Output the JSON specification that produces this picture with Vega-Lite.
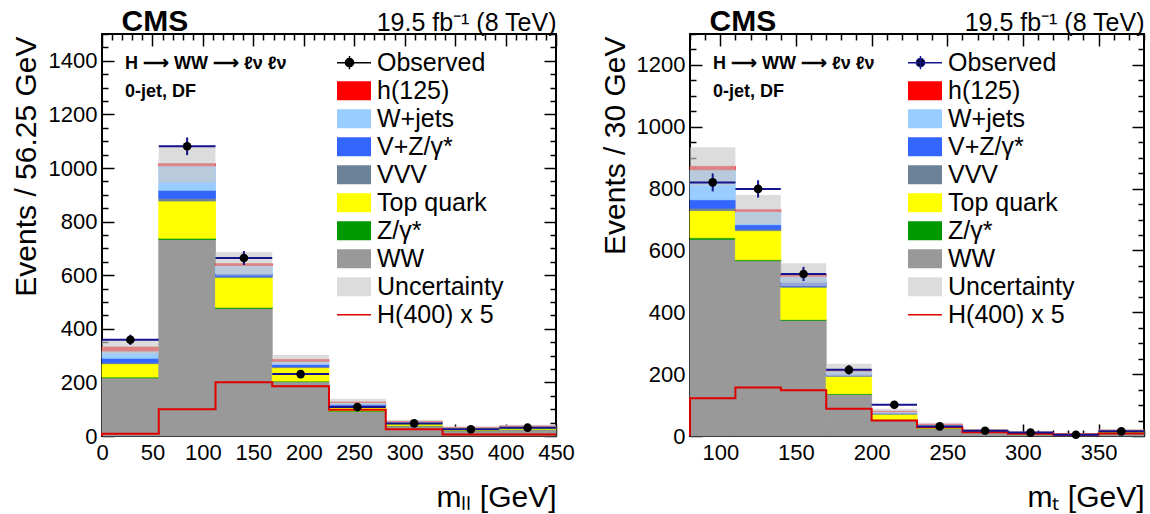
{
  "$schema": "https://vega.github.io/schema/vega-lite/v6.json",
  "description": "CMS H to WW 0-jet DF: m_ll and m_T distributions, stacked backgrounds with observed data.",
  "padding": {"left": 9, "top": 5, "right": 3, "bottom": 2},
  "bounds": "flush",
  "spacing": 134,
  "datasets": {
    "procs": [
      {"process": "WW", "rank": 1},
      {"process": "Z/γ*", "rank": 2},
      {"process": "Top quark", "rank": 3},
      {"process": "VVV", "rank": 4},
      {"process": "V+Z/γ*", "rank": 5},
      {"process": "W+jets", "rank": 6},
      {"process": "h(125)", "rank": 7}
    ],
    "mllStack": [
      {"lo": 0, "hi": 56.25, "WW": 217, "Z/γ*": 3, "Top quark": 50, "VVV": 3, "V+Z/γ*": 17, "W+jets": 27, "h(125)": 15},
      {"lo": 56.25, "hi": 112.5, "WW": 733, "Z/γ*": 5, "Top quark": 139, "VVV": 10, "V+Z/γ*": 30, "W+jets": 91, "h(125)": 8},
      {"lo": 112.5, "hi": 168.75, "WW": 476, "Z/γ*": 4, "Top quark": 111, "VVV": 5, "V+Z/γ*": 10, "W+jets": 30, "h(125)": 7},
      {"lo": 168.75, "hi": 225, "WW": 203, "Z/γ*": 2, "Top quark": 50, "VVV": 4, "V+Z/γ*": 8, "W+jets": 12, "h(125)": 6},
      {"lo": 225, "hi": 281.25, "WW": 92, "Z/γ*": 2, "Top quark": 18, "VVV": 2, "V+Z/γ*": 5, "W+jets": 6, "h(125)": 2},
      {"lo": 281.25, "hi": 337.5, "WW": 38, "Z/γ*": 1, "Top quark": 7, "VVV": 1, "V+Z/γ*": 2, "W+jets": 4, "h(125)": 1},
      {"lo": 337.5, "hi": 393.75, "WW": 20, "Z/γ*": 1, "Top quark": 4, "VVV": 1, "V+Z/γ*": 1, "W+jets": 3, "h(125)": 0.5},
      {"lo": 393.75, "hi": 450, "WW": 24, "Z/γ*": 1, "Top quark": 5, "VVV": 1, "V+Z/γ*": 2, "W+jets": 3, "h(125)": 0.5}
    ],
    "mllUnc": [
      {"lo": 0, "hi": 56.25, "down": 305, "up": 359},
      {"lo": 56.25, "hi": 112.5, "down": 946, "up": 1084},
      {"lo": 112.5, "hi": 168.75, "down": 599, "up": 687},
      {"lo": 168.75, "hi": 225, "down": 268, "up": 302},
      {"lo": 225, "hi": 281.25, "down": 115, "up": 139},
      {"lo": 281.25, "hi": 337.5, "down": 47, "up": 61},
      {"lo": 337.5, "hi": 393.75, "down": 25, "up": 36},
      {"lo": 393.75, "hi": 450, "down": 31, "up": 42}
    ],
    "mllObs": [
      {"lo": 0, "hi": 56.25, "mid": 28.125, "n": 359, "down": 340, "up": 378},
      {"lo": 56.25, "hi": 112.5, "mid": 84.375, "n": 1081, "down": 1048, "up": 1114},
      {"lo": 112.5, "hi": 168.75, "mid": 140.625, "n": 664, "down": 638, "up": 690},
      {"lo": 168.75, "hi": 225, "mid": 196.875, "n": 231, "down": 216, "up": 246},
      {"lo": 225, "hi": 281.25, "mid": 253.125, "n": 108, "down": 98, "up": 118},
      {"lo": 281.25, "hi": 337.5, "mid": 309.375, "n": 47, "down": 40, "up": 54},
      {"lo": 337.5, "hi": 393.75, "mid": 365.625, "n": 25, "down": 20, "up": 30},
      {"lo": 393.75, "hi": 450, "mid": 421.875, "n": 31, "down": 25, "up": 37}
    ],
    "mllH400": [
      {"m": 0, "n": 0},
      {"m": 0, "n": 8},
      {"m": 56.25, "n": 100},
      {"m": 112.5, "n": 201},
      {"m": 168.75, "n": 186},
      {"m": 225, "n": 98},
      {"m": 281.25, "n": 25},
      {"m": 337.5, "n": 6},
      {"m": 393.75, "n": 6},
      {"m": 450, "n": 6}
    ],
    "mtStack": [
      {"lo": 80, "hi": 110, "WW": 636, "Z/γ*": 5, "Top quark": 88, "VVV": 8, "V+Z/γ*": 27, "W+jets": 97, "h(125)": 11},
      {"lo": 110, "hi": 140, "WW": 567, "Z/γ*": 3, "Top quark": 94, "VVV": 5, "V+Z/γ*": 14, "W+jets": 43, "h(125)": 6},
      {"lo": 140, "hi": 170, "WW": 374, "Z/γ*": 3, "Top quark": 104, "VVV": 4, "V+Z/γ*": 12, "W+jets": 20, "h(125)": 5},
      {"lo": 170, "hi": 200, "WW": 135, "Z/γ*": 2, "Top quark": 56, "VVV": 2, "V+Z/γ*": 5, "W+jets": 10, "h(125)": 3},
      {"lo": 200, "hi": 230, "WW": 52, "Z/γ*": 1, "Top quark": 18, "VVV": 1, "V+Z/γ*": 3, "W+jets": 4, "h(125)": 1},
      {"lo": 230, "hi": 260, "WW": 24, "Z/γ*": 1, "Top quark": 7, "VVV": 1, "V+Z/γ*": 2, "W+jets": 2, "h(125)": 1},
      {"lo": 260, "hi": 290, "WW": 12, "Z/γ*": 0.5, "Top quark": 3, "VVV": 0.5, "V+Z/γ*": 1, "W+jets": 1.5, "h(125)": 0.5},
      {"lo": 290, "hi": 320, "WW": 7, "Z/γ*": 0.3, "Top quark": 2, "VVV": 0.4, "V+Z/γ*": 0.8, "W+jets": 1, "h(125)": 0.3},
      {"lo": 320, "hi": 350, "WW": 5, "Z/γ*": 0.2, "Top quark": 1.3, "VVV": 0.3, "V+Z/γ*": 0.5, "W+jets": 0.5, "h(125)": 0.2},
      {"lo": 350, "hi": 380, "WW": 12, "Z/γ*": 0.5, "Top quark": 2.5, "VVV": 0.5, "V+Z/γ*": 1, "W+jets": 1.5, "h(125)": 0.5}
    ],
    "mtUnc": [
      {"lo": 80, "hi": 110, "down": 810, "up": 934},
      {"lo": 110, "hi": 140, "down": 685, "up": 779},
      {"lo": 140, "hi": 170, "down": 485, "up": 559},
      {"lo": 170, "hi": 200, "down": 193, "up": 234},
      {"lo": 200, "hi": 230, "down": 72, "up": 88},
      {"lo": 230, "hi": 260, "down": 33, "up": 43},
      {"lo": 260, "hi": 290, "down": 16, "up": 22},
      {"lo": 290, "hi": 320, "down": 9, "up": 14.5},
      {"lo": 320, "hi": 350, "down": 6, "up": 10},
      {"lo": 350, "hi": 380, "down": 15, "up": 22}
    ],
    "mtObs": [
      {"lo": 80, "hi": 110, "mid": 95, "n": 820, "down": 791, "up": 849},
      {"lo": 110, "hi": 140, "mid": 125, "n": 799, "down": 771, "up": 827},
      {"lo": 140, "hi": 170, "mid": 155, "n": 524, "down": 501, "up": 547},
      {"lo": 170, "hi": 200, "mid": 185, "n": 214, "down": 199, "up": 229},
      {"lo": 200, "hi": 230, "mid": 215, "n": 101, "down": 91, "up": 111},
      {"lo": 230, "hi": 260, "mid": 245, "n": 31, "down": 25.5, "up": 36.5},
      {"lo": 260, "hi": 290, "mid": 275, "n": 17, "down": 13, "up": 21},
      {"lo": 290, "hi": 320, "mid": 305, "n": 11, "down": 7.7, "up": 14.3},
      {"lo": 320, "hi": 350, "mid": 335, "n": 4, "down": 2, "up": 6},
      {"lo": 350, "hi": 380, "mid": 365, "n": 15, "down": 11, "up": 19}
    ],
    "mtH400": [
      {"m": 80, "n": 0},
      {"m": 80, "n": 122},
      {"m": 110, "n": 157},
      {"m": 140, "n": 148},
      {"m": 170, "n": 88},
      {"m": 200, "n": 50},
      {"m": 230, "n": 28},
      {"m": 260, "n": 12},
      {"m": 290, "n": 7},
      {"m": 320, "n": 4},
      {"m": 350, "n": 8},
      {"m": 380, "n": 8}
    ]
  },
  "hconcat": [
    {
      "width": 454,
      "height": 402,
      "title": {
        "text": "H ⟶ WW ⟶  ℓν ℓν",
        "subtitle": "0-jet, DF",
        "anchor": "start",
        "frame": "group",
        "offset": -31,
        "dx": 23,
        "dy": 64,
        "fontSize": 18,
        "fontWeight": "bold",
        "subtitleFontSize": 18,
        "subtitleFontWeight": "bold",
        "subtitlePadding": 10,
        "color": "black",
        "subtitleColor": "black"
      },
      "layer": [
        {
          "data": {"name": "mllStack"},
          "transform": [
            {"fold": ["WW", "Z/γ*", "Top quark", "VVV", "V+Z/γ*", "W+jets", "h(125)"], "as": ["process", "events"]},
            {"lookup": "process", "from": {"data": {"name": "procs"}, "key": "process", "fields": ["rank"]}},
            {"stack": "events", "groupby": ["lo"], "sort": [{"field": "rank", "order": "ascending"}], "as": ["bottom", "top"]}
          ],
          "mark": {"type": "rect", "strokeWidth": 0.8},
          "encoding": {
            "x": {
              "field": "lo", "type": "quantitative",
              "scale": {"domain": [0, 450], "nice": false, "zero": false},
              "axis": {
                "orient": "bottom",
                "values": [0,10,20,30,40,50,60,70,80,90,100,110,120,130,140,150,160,170,180,190,200,210,220,230,240,250,260,270,280,290,300,310,320,330,340,350,360,370,380,390,400,410,420,430,440,450],
                "labelExpr": "datum.value % 50 === 0 ? datum.label : ''",
                "tickSize": {"condition": {"test": "datum.value % 50 === 0", "value": -12}, "value": -6},
                "labelPadding": 18,
                "title": "mₗₗ  [GeV]",
                "titleX": 454, "titleY": 70, "titleAlign": "right", "titleBaseline": "alphabetic"
              }
            },
            "x2": {"field": "hi"},
            "y": {
              "field": "bottom", "type": "quantitative",
              "scale": {"domain": [0, 1500], "nice": false},
              "axis": {
                "orient": "left",
                "values": [0,50,100,150,200,250,300,350,400,450,500,550,600,650,700,750,800,850,900,950,1000,1050,1100,1150,1200,1250,1300,1350,1400,1450,1500],
                "format": "d",
                "labelExpr": "datum.value % 200 === 0 ? datum.label : ''",
                "tickSize": {"condition": {"test": "datum.value % 200 === 0", "value": -12}, "value": -6},
                "labelPadding": 17,
                "title": "Events / 56.25 GeV",
                "titleAngle": -90, "titleX": -67, "titleY": 2, "titleAlign": "right", "titleBaseline": "alphabetic"
              }
            },
            "y2": {"field": "top"},
            "color": {
              "field": "process", "type": "nominal",
              "scale": {
                "domain": ["Observed", "h(125)", "W+jets", "V+Z/γ*", "VVV", "Top quark", "Z/γ*", "WW", "Uncertainty", "H(400) x 5"],
                "range": ["#000000", "#ff0000", "#99ccff", "#3366ff", "#6b8299", "#ffff00", "#009a00", "#999999", "#dcdcdc", "#dd0000"]
              },
              "legend": {
                "title": null, "orient": "none", "legendX": 235, "legendY": 15,
                "encode": {
                  "symbols": {
                    "update": {
                      "shape": {"signal": "datum.value === 'Observed' ? 'M-1,0H1M0,-0.31V0.31M-0.19,0A0.19,0.19 0 1 0 0.19,0A0.19,0.19 0 1 0 -0.19,0' : datum.value === 'H(400) x 5' ? 'M-1,0H1' : 'M-1,-0.44H1V0.44H-1Z'"},
                      "stroke": {"signal": "datum.value === 'H(400) x 5' ? '#dd0000' : 'black'"},
                      "strokeWidth": {"signal": "datum.value === 'Observed' || datum.value === 'H(400) x 5' ? 1.5 : 0"}
                    }
                  }
                }
              }
            },
            "stroke": {
              "field": "process", "type": "nominal",
              "scale": {
                "domain": ["Observed", "h(125)", "W+jets", "V+Z/γ*", "VVV", "Top quark", "Z/γ*", "WW", "Uncertainty", "H(400) x 5"],
                "range": ["#000000", "#ff0000", "#99ccff", "#3366ff", "#6b8299", "#ffff00", "#009a00", "#999999", "#dcdcdc", "#dd0000"]
              },
              "legend": null
            }
          }
        },
        {
          "data": {"name": "mllUnc"},
          "mark": {"type": "rect", "color": "#c9c9c9", "opacity": 0.65},
          "encoding": {
            "x": {
              "field": "lo", "type": "quantitative",
              "axis": {
                "orient": "top", "labels": false,
                "values": [0,10,20,30,40,50,60,70,80,90,100,110,120,130,140,150,160,170,180,190,200,210,220,230,240,250,260,270,280,290,300,310,320,330,340,350,360,370,380,390,400,410,420,430,440,450],
                "tickSize": {"condition": {"test": "datum.value % 50 === 0", "value": -12}, "value": -6},
                "title": "19.5 fb⁻¹ (8 TeV)", "titleFontSize": 25,
                "titleX": 454, "titleY": -4, "titleAlign": "right", "titleBaseline": "alphabetic"
              }
            },
            "x2": {"field": "hi"},
            "y": {
              "field": "down", "type": "quantitative",
              "axis": {
                "orient": "right", "labels": false,
                "values": [0,50,100,150,200,250,300,350,400,450,500,550,600,650,700,750,800,850,900,950,1000,1050,1100,1150,1200,1250,1300,1350,1400,1450,1500],
                "tickSize": {"condition": {"test": "datum.value % 200 === 0", "value": -12}, "value": -6},
                "title": "CMS", "titleFontSize": 30, "titleFontWeight": "bold",
                "titleAngle": 0, "titleX": -435, "titleY": -4, "titleAlign": "left", "titleBaseline": "alphabetic"
              }
            },
            "y2": {"field": "up"}
          }
        },
        {
          "data": {"name": "mllH400"},
          "mark": {"type": "line", "interpolate": "step-after", "color": "#dd0000", "strokeWidth": 2},
          "encoding": {
            "x": {"field": "m", "type": "quantitative", "axis": null},
            "y": {"field": "n", "type": "quantitative", "axis": null}
          }
        },
        {
          "data": {"name": "mllObs"},
          "mark": {"type": "rule", "color": "#14148c", "strokeWidth": 2},
          "encoding": {
            "x": {"field": "lo", "type": "quantitative", "axis": null},
            "x2": {"field": "hi"},
            "y": {"field": "n", "type": "quantitative", "axis": null}
          }
        },
        {
          "data": {"name": "mllObs"},
          "mark": {"type": "rule", "color": "#14148c", "strokeWidth": 2},
          "encoding": {
            "x": {"field": "mid", "type": "quantitative", "axis": null},
            "y": {"field": "down", "type": "quantitative", "axis": null},
            "y2": {"field": "up"}
          }
        },
        {
          "data": {"name": "mllObs"},
          "mark": {"type": "point", "filled": true, "color": "black", "opacity": 1, "size": 75},
          "encoding": {
            "x": {"field": "mid", "type": "quantitative", "axis": null},
            "y": {"field": "n", "type": "quantitative", "axis": null}
          }
        }
      ],
      "resolve": {"axis": {"x": "independent", "y": "independent"}}
    },
    {
      "width": 454,
      "height": 402,
      "title": {
        "text": "H ⟶ WW ⟶  ℓν ℓν",
        "subtitle": "0-jet, DF",
        "anchor": "start",
        "frame": "group",
        "offset": -31,
        "dx": 23,
        "dy": 64,
        "fontSize": 18,
        "fontWeight": "bold",
        "subtitleFontSize": 18,
        "subtitleFontWeight": "bold",
        "subtitlePadding": 10,
        "color": "black",
        "subtitleColor": "black"
      },
      "layer": [
        {
          "data": {"name": "mtStack"},
          "transform": [
            {"fold": ["WW", "Z/γ*", "Top quark", "VVV", "V+Z/γ*", "W+jets", "h(125)"], "as": ["process", "events"]},
            {"lookup": "process", "from": {"data": {"name": "procs"}, "key": "process", "fields": ["rank"]}},
            {"stack": "events", "groupby": ["lo"], "sort": [{"field": "rank", "order": "ascending"}], "as": ["bottom", "top"]}
          ],
          "mark": {"type": "rect", "strokeWidth": 0.8},
          "encoding": {
            "x": {
              "field": "lo", "type": "quantitative",
              "scale": {"domain": [80, 380], "nice": false, "zero": false},
              "axis": {
                "orient": "bottom",
                "values": [80,90,100,110,120,130,140,150,160,170,180,190,200,210,220,230,240,250,260,270,280,290,300,310,320,330,340,350,360,370,380],
                "labelExpr": "datum.value % 50 === 0 ? datum.label : ''",
                "tickSize": {"condition": {"test": "datum.value % 50 === 0", "value": -12}, "value": -6},
                "labelPadding": 18,
                "title": "mₜ [GeV]",
                "titleX": 454, "titleY": 70, "titleAlign": "right", "titleBaseline": "alphabetic"
              }
            },
            "x2": {"field": "hi"},
            "y": {
              "field": "bottom", "type": "quantitative",
              "scale": {"domain": [0, 1300], "nice": false},
              "axis": {
                "orient": "left",
                "values": [0,50,100,150,200,250,300,350,400,450,500,550,600,650,700,750,800,850,900,950,1000,1050,1100,1150,1200,1250,1300],
                "format": "d",
                "labelExpr": "datum.value % 200 === 0 ? datum.label : ''",
                "tickSize": {"condition": {"test": "datum.value % 200 === 0", "value": -12}, "value": -6},
                "labelPadding": 17,
                "title": "Events / 30 GeV",
                "titleAngle": -90, "titleX": -66, "titleY": 2, "titleAlign": "right", "titleBaseline": "alphabetic"
              }
            },
            "y2": {"field": "top"},
            "color": {
              "field": "process", "type": "nominal",
              "scale": {
                "domain": ["Observed", "h(125)", "W+jets", "V+Z/γ*", "VVV", "Top quark", "Z/γ*", "WW", "Uncertainty", "H(400) x 5"],
                "range": ["#000000", "#ff0000", "#99ccff", "#3366ff", "#6b8299", "#ffff00", "#009a00", "#999999", "#dcdcdc", "#dd0000"]
              },
              "legend": {
                "title": null, "orient": "none", "legendX": 218, "legendY": 15,
                "encode": {
                  "symbols": {
                    "update": {
                      "shape": {"signal": "datum.value === 'Observed' ? 'M-1,0H1M0,-0.31V0.31M-0.19,0A0.19,0.19 0 1 0 0.19,0A0.19,0.19 0 1 0 -0.19,0' : datum.value === 'H(400) x 5' ? 'M-1,0H1' : 'M-1,-0.44H1V0.44H-1Z'"},
                      "stroke": {"signal": "datum.value === 'H(400) x 5' ? '#dd0000' : datum.value === 'Observed' ? '#14148c' : 'black'"},
                      "strokeWidth": {"signal": "datum.value === 'Observed' || datum.value === 'H(400) x 5' ? 1.5 : 0"}
                    }
                  }
                }
              }
            },
            "stroke": {
              "field": "process", "type": "nominal",
              "scale": {
                "domain": ["Observed", "h(125)", "W+jets", "V+Z/γ*", "VVV", "Top quark", "Z/γ*", "WW", "Uncertainty", "H(400) x 5"],
                "range": ["#000000", "#ff0000", "#99ccff", "#3366ff", "#6b8299", "#ffff00", "#009a00", "#999999", "#dcdcdc", "#dd0000"]
              },
              "legend": null
            }
          }
        },
        {
          "data": {"name": "mtUnc"},
          "mark": {"type": "rect", "color": "#c9c9c9", "opacity": 0.65},
          "encoding": {
            "x": {
              "field": "lo", "type": "quantitative",
              "axis": {
                "orient": "top", "labels": false,
                "values": [80,90,100,110,120,130,140,150,160,170,180,190,200,210,220,230,240,250,260,270,280,290,300,310,320,330,340,350,360,370,380],
                "tickSize": {"condition": {"test": "datum.value % 50 === 0", "value": -12}, "value": -6},
                "title": "19.5 fb⁻¹ (8 TeV)", "titleFontSize": 25,
                "titleX": 454, "titleY": -4, "titleAlign": "right", "titleBaseline": "alphabetic"
              }
            },
            "x2": {"field": "hi"},
            "y": {
              "field": "down", "type": "quantitative",
              "axis": {
                "orient": "right", "labels": false,
                "values": [0,50,100,150,200,250,300,350,400,450,500,550,600,650,700,750,800,850,900,950,1000,1050,1100,1150,1200,1250,1300],
                "tickSize": {"condition": {"test": "datum.value % 200 === 0", "value": -12}, "value": -6},
                "title": "CMS", "titleFontSize": 30, "titleFontWeight": "bold",
                "titleAngle": 0, "titleX": -435, "titleY": -4, "titleAlign": "left", "titleBaseline": "alphabetic"
              }
            },
            "y2": {"field": "up"}
          }
        },
        {
          "data": {"name": "mtH400"},
          "mark": {"type": "line", "interpolate": "step-after", "color": "#dd0000", "strokeWidth": 2},
          "encoding": {
            "x": {"field": "m", "type": "quantitative", "axis": null},
            "y": {"field": "n", "type": "quantitative", "axis": null}
          }
        },
        {
          "data": {"name": "mtObs"},
          "mark": {"type": "rule", "color": "#14148c", "strokeWidth": 2},
          "encoding": {
            "x": {"field": "lo", "type": "quantitative", "axis": null},
            "x2": {"field": "hi"},
            "y": {"field": "n", "type": "quantitative", "axis": null}
          }
        },
        {
          "data": {"name": "mtObs"},
          "mark": {"type": "rule", "color": "#14148c", "strokeWidth": 2},
          "encoding": {
            "x": {"field": "mid", "type": "quantitative", "axis": null},
            "y": {"field": "down", "type": "quantitative", "axis": null},
            "y2": {"field": "up"}
          }
        },
        {
          "data": {"name": "mtObs"},
          "mark": {"type": "point", "filled": true, "color": "black", "opacity": 1, "size": 75},
          "encoding": {
            "x": {"field": "mid", "type": "quantitative", "axis": null},
            "y": {"field": "n", "type": "quantitative", "axis": null}
          }
        }
      ],
      "resolve": {"axis": {"x": "independent", "y": "independent"}}
    }
  ],
  "resolve": {"scale": {"color": "independent"}, "legend": {"color": "independent"}},
  "config": {
    "font": "Liberation Sans",
    "view": {"stroke": "black", "strokeWidth": 2},
    "axis": {
      "labelFont": "Liberation Sans",
      "labelFontSize": 22,
      "labelColor": "black",
      "titleFont": "Liberation Sans",
      "titleFontSize": 30,
      "titleFontWeight": "normal",
      "titleColor": "black",
      "tickColor": "black",
      "tickWidth": 1.5,
      "domain": false,
      "grid": false,
      "labelOverlap": false,
      "labelFlush": false
    },
    "legend": {
      "labelFont": "Liberation Sans",
      "labelFontSize": 25,
      "labelColor": "black",
      "labelLimit": 300,
      "symbolSize": 1849,
      "symbolOpacity": 1,
      "clipHeight": 27.4,
      "rowPadding": 0,
      "labelOffset": 15,
      "padding": 0
    },
    "title": {"font": "Liberation Sans", "subtitleFont": "Liberation Sans"}
  }
}
